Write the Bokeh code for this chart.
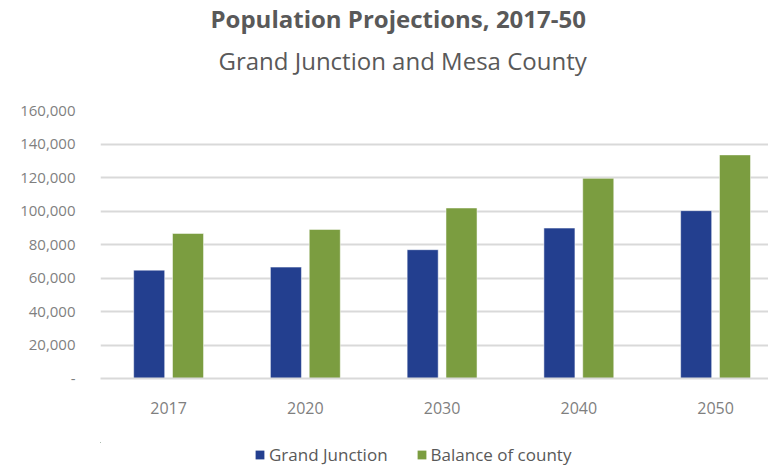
from bokeh.plotting import figure
from bokeh.layouts import column
from bokeh.models import (Range1d, FixedTicker, NumeralTickFormatter, Legend,
                          LegendItem, Title, ColumnDataSource)
from bokeh.transform import dodge
from bokeh.embed import file_html
from bokeh.resources import INLINE

# ---- data ----
years = ["2017", "2020", "2030", "2040", "2050"]
grand_junction = [64700, 66500, 76900, 89800, 100200]
balance_of_county = [86600, 89000, 101800, 119500, 133500]
y_ticks = [0, 20000, 40000, 60000, 80000, 100000, 120000, 140000, 160000]
series_names = ["Grand Junction", "Balance of county"]
title_text = "Population Projections, 2017-50"
subtitle_text = "Grand Junction and Mesa County"

BLUE = "#233F8F"
GREEN = "#7B9D40"
TXT = "#595959"
AX = "#7F7F7F"
GRID = "#D9D9D9"
FONT = "Open Sans"

pos = list(range(len(years)))
src = ColumnDataSource(dict(x=pos, gj=grand_junction, bc=balance_of_county))

p = figure(frame_width=668, frame_height=268, output_backend="svg", toolbar_location=None,
           title=None,
           x_range=Range1d(-0.498, 4.387), y_range=Range1d(0, 160000),
           min_border_left=100, min_border_right=0, min_border_top=110,
           min_border_bottom=64)
p.outline_line_color = None
p.background_fill_color = "white"
p.border_fill_color = "white"

p.vbar(x=dodge("x", -0.142, range=p.x_range), top="gj", width=0.227, source=src,
       fill_color=BLUE, line_color="white", line_width=0.5)
p.vbar(x=dodge("x", 0.142, range=p.x_range), top="bc", width=0.227, source=src,
       fill_color=GREEN, line_color="white", line_width=0.5)

# axes
p.xaxis.ticker = FixedTicker(ticks=pos)
p.xaxis.major_label_overrides = {i: y for i, y in enumerate(years)}
p.xaxis.major_tick_line_color = None
p.xaxis.minor_tick_line_color = None
p.xaxis.axis_line_color = GRID
p.xaxis.axis_line_width = 2
p.xaxis.major_label_standoff = 17
p.xaxis.major_label_text_font = FONT
p.xaxis.major_label_text_font_size = "16px"
p.xaxis.major_label_text_color = AX

p.yaxis.ticker = FixedTicker(ticks=y_ticks)
p.yaxis.formatter = NumeralTickFormatter(format="0,0")
p.yaxis.major_label_overrides = {0: "-"}
p.yaxis.major_tick_line_color = None
p.yaxis.minor_tick_line_color = None
p.yaxis.axis_line_color = None
p.yaxis.major_label_standoff = 19
p.yaxis.major_label_text_font = FONT
p.yaxis.major_label_text_font_size = "15px"
p.yaxis.major_label_text_color = AX

p.xgrid.grid_line_color = None
p.ygrid.grid_line_color = GRID
p.ygrid.grid_line_width = 2
p.ygrid.ticker = FixedTicker(ticks=y_ticks)

# titles (first added sits nearest the frame)
p.add_layout(Title(text=subtitle_text, align="left", offset=118, standoff=67,
                   text_font=FONT, text_font_size="24px", text_font_style="normal",
                   text_color=TXT), "above")
p.add_layout(Title(text=title_text, align="left", offset=110, standoff=-52,
                   text_font=FONT, text_font_size="24px", text_font_style="bold",
                   text_color=TXT), "above")

# legend strip: a small figure below the chart that only carries the legend
pl = figure(width=768, height=24, output_backend="svg", toolbar_location=None,
            x_range=Range1d(100, 101), y_range=Range1d(-2, -1), min_border=0,
            x_axis_location=None, y_axis_location=None)
pl.outline_line_color = None
pl.xgrid.visible = False
pl.ygrid.visible = False
lr1 = pl.vbar(x="x", top="gj", width=0.2, source=src, fill_color=BLUE, line_color=None)
lr2 = pl.vbar(x="x", top="bc", width=0.2, source=src, fill_color=GREEN, line_color=None)
legend = Legend(items=[LegendItem(label=series_names[0], renderers=[lr1]),
                       LegendItem(label=series_names[1], renderers=[lr2])],
                orientation="horizontal", location=(154, 0),
                label_text_font=FONT, label_text_font_size="17px", label_text_color=TXT,
                glyph_width=11, glyph_height=11, spacing=28, label_standoff=4,
                border_line_color=None, background_fill_alpha=0, margin=0, padding=0)
pl.add_layout(legend)

layout = column(p, pl, spacing=0)
open("out.html", "w").write(file_html(layout, INLINE))
